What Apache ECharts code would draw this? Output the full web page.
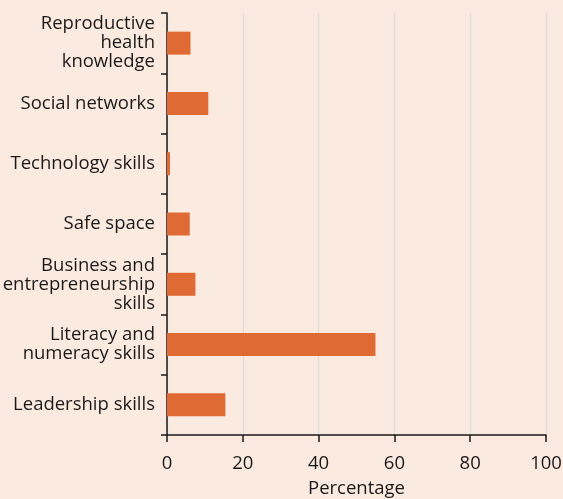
<!DOCTYPE html>
<html><head><meta charset="utf-8">
<script src="https://cdn.jsdelivr.net/npm/echarts@6/dist/echarts.min.js"></script>
<style>html,body{margin:0;padding:0;background:#fbeae0;}#c{width:563px;height:499px;}</style>
</head><body><div id="c"></div>
<script>
const categories = ["Reproductive\nhealth\nknowledge","Social networks","Technology skills","Safe space","Business and\nentrepreneurship\nskills","Literacy and\nnumeracy skills","Leadership skills"];
const values = [6.2, 10.9, 0.8, 6.0, 7.5, 55.0, 15.4];
const xTicks = [0, 20, 40, 60, 80, 100];
const FONT = "Open Sans";
const catData = categories.map((c, i) => i === 0 ? {value: c, textStyle: {padding: [8, 0, 0, 0]}} : c);
const chart = echarts.init(document.getElementById('c'));
chart.setOption({
  backgroundColor: '#fbeae0',
  animation: false,
  grid: {left: 167, right: 17, top: 13, bottom: 64, containLabel: false, outerBoundsMode: 'none'},
  xAxis: {
    type: 'value', min: xTicks[0], max: xTicks[xTicks.length-1], interval: 20,
    name: 'Percentage', nameLocation: 'middle', nameGap: 44,
    nameTextStyle: {fontFamily: FONT, fontSize: 18.5, color: '#1a1a1a'},
    axisLine: {show: true, lineStyle: {color: '#1a1a1a', width: 1.5}},
    axisTick: {show: true, length: 7, lineStyle: {color: '#1a1a1a', width: 1.5}},
    axisLabel: {fontFamily: FONT, fontSize: 18.5, color: '#1a1a1a', margin: 19},
    splitLine: {show: true, lineStyle: {color: '#e0dcd8', width: 1.2}}
  },
  yAxis: {
    type: 'category', data: catData, inverse: true,
    axisLine: {show: true, lineStyle: {color: '#1a1a1a', width: 1.5}},
    axisTick: {show: true, length: 6, lineStyle: {color: '#1a1a1a', width: 1.5}},
    axisLabel: {fontFamily: FONT, fontSize: 18.5, color: '#1a1a1a', margin: 12, lineHeight: 19, align: 'right'},
    splitLine: {show: false}
  },
  series: [{
    type: 'bar', data: values, barWidth: 23,
    itemStyle: {color: '#df6a34'}
  }]
});
</script></body></html>
